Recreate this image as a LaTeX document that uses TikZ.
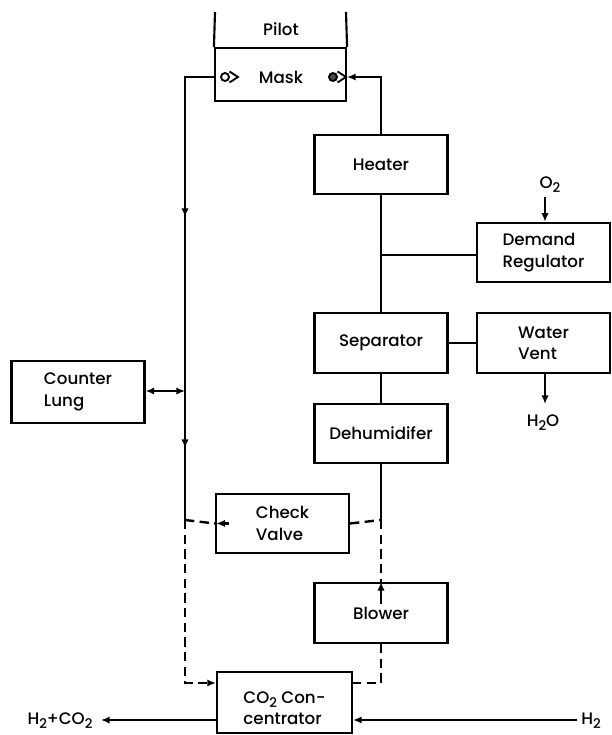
\documentclass[tikz,border=0pt]{standalone}
\usepackage{fontspec}
\setmainfont{Poppins}[UprightFont=* Medium]
\usetikzlibrary{arrows.meta}
\newcommand\subtwo{\raisebox{-0.45ex}{\fontsize{10}{10}\selectfont 2}}
\begin{document}
\begin{tikzpicture}[x=0.75pt,y=-0.75pt,
  box/.style={draw,line width=1.6pt,minimum width=99.75pt,minimum height=44.5pt,inner sep=0pt,align=left,font=\fontsize{12.5}{16}\selectfont},
  flow/.style={line width=1.8pt},
  dflow/.style={line width=1.8pt,dash pattern=on 7pt off 4pt},
  tip/.style={-{Latex[length=6.5pt,width=5.5pt]}},
  lbl/.style={font=\fontsize{12.5}{16}\selectfont,inner sep=0pt}]
\useasboundingbox (0,0) rectangle (611,735);

% Pilot / mask
\node[box,minimum width=98.25pt,minimum height=39.75pt] (mask) at (280.5,74.5) {};
\node[lbl] (masktxt) at (281,77) {Mask};
\node[lbl] (pilot) at (281,29) {Pilot};
\coordinate (pl) at (215,12);
\coordinate (pr) at (346,12);
\draw[line width=1.6pt] (pl) -- (mask.north west);
\draw[line width=1.6pt] (pr) -- (mask.north east);
% valve symbols
\draw[line width=1.4pt] (225,77) circle (4) (229.5,71.5) -- (238,77) -- (229.5,82.5);
\draw[line width=1.4pt,fill=black!70] (333,77) circle (4);
\draw[line width=1.4pt] (337.5,71.5) -- (346,77) -- (337.5,82.5);

% right column
\node[box] (heater) at (381,164.5) {Heater};
\node[box,minimum height=45pt] (sep) at (381,343) {Separator};
\node[box] (dehum) at (381,433.5) {Dehumidifer};
\node[box,minimum height=45pt] (blower) at (381,613) {Blower};
\node[box] (demand) at (543.5,252.5) {Demand\\Regulator};
\node[box,minimum height=45pt] (water) at (543.5,343) {Water\\Vent};
\node[box,minimum height=46.5pt] (counter) at (78,392) {Counter\\Lung};
\node[box] (check) at (282.5,523.5) {Check\\Valve};
\node[box,minimum width=101.25pt,minimum height=45.75pt] (co2) at (284.5,702.5) {};
\node[lbl,align=left] (co2txt) at (284.5,708) {CO\subtwo{} Con-\\centrator};

\node[lbl] (o2) at (550,185) {O\subtwo};
\node[lbl] (h2o) at (543,423) {H\subtwo O};
\node[lbl] (h2) at (591,721) {H\subtwo};
\node[lbl] (h2co2) at (60,721) {H\subtwo+CO\subtwo};

\coordinate (tl) at (185,77);
\coordinate (tr) at (381,77);
\coordinate (jreg) at (381,255);
\coordinate (jcl) at (185,391);
\coordinate (la) at (185,217);
\coordinate (lb) at (185,448);
\coordinate (jl) at (185,520);
\coordinate (jr) at (381,520);
\coordinate (bl) at (185,683);
\coordinate (br) at (381,683);
\coordinate (o2s) at (545,197);
\coordinate (h2oe) at (545,404);
\coordinate (h2s) at (577,720);
\coordinate (h2co2e) at (101,720);

% solid flows
\draw[flow] (mask.west |- tl) -- (tl) -- (jl);
\draw[flow,tip] (tl) -- (la);
\draw[flow,tip] (la) -- (lb);
\draw[flow,tip] (heater.north) -- (tr) -- (mask.east |- tr);
\draw[flow] (heater.south) -- (sep.north);
\draw[flow] (jreg) -- (demand.west |- jreg);
\draw[flow,tip] (o2s) -- (demand.north -| o2s);
\draw[flow] (sep.east) -- (water.west);
\draw[flow,tip] (water.south -| h2oe) -- (h2oe);
\draw[flow] (sep.south) -- (dehum.north);
\draw[flow] (dehum.south) -- (jr);
\draw[flow,{Latex[length=6.5pt,width=5.5pt]}-{Latex[length=6.5pt,width=5.5pt]}] (counter.east |- jcl) -- (jcl);
\draw[flow,tip] (381,604) -- (blower.north);
\draw[flow,tip] (check.west) ++(14,0) -- ([xshift=1pt]check.west);
\draw[flow,tip] (h2s) -- (co2.east |- h2s);
\draw[flow,tip] (co2.west |- h2co2e) -- (h2co2e);

% dashed flows
\draw[dflow] (jl) -- (check.west);
\draw[dflow] (check.east) -- (jr);
\draw[dflow] (jr) -- (blower.north);
\draw[dflow,tip] (jl) -- (bl) -- (co2.west |- bl);
\draw[dflow] (blower.south) -- (br) -- (co2.east |- br);
\end{tikzpicture}
\end{document}
